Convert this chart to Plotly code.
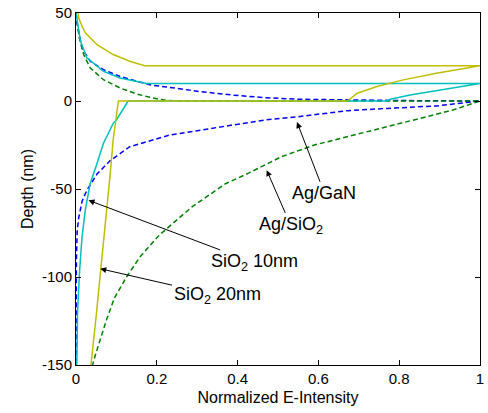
import plotly.graph_objects as go

# SiO2 20nm (yellow solid)
y20_x = [0.005, 0.007, 0.015, 0.023, 0.052, 0.092, 0.133, 0.17, 1.0, 0.892, 0.81, 0.745, 0.696, 0.672,
         0.105, 0.092, 0.084, 0.073, 0.062, 0.05, 0.037]
y20_y = [50, 47, 42.5, 38.7, 32, 26.4, 22.6, 20, 20, 15.8, 12, 8.2, 4.4, 0,
         0, -22, -43, -70, -96, -122, -150]

# SiO2 10nm (cyan solid)
s10_x = [0.0, 0.003, 0.011, 0.027, 0.068, 0.109, 0.158, 0.175, 1.0, 0.892, 0.827, 0.778, 0.77,
         0.129, 0.115, 0.1, 0.092, 0.068, 0.052, 0.035, 0.023, 0.015, 0.009, 0.004, 0.002]
s10_y = [50, 45, 34, 24.5, 16.9, 13.1, 10.8, 10, 10, 5.9, 3.4, 1, 0,
         0, -5, -10.8, -12.7, -24, -35.5, -47, -62, -77, -96, -119, -150]

# Ag/GaN (blue dashed)
gan_x = [0.0, 0.003, 0.015, 0.035, 0.068, 0.109, 0.15, 0.19, 0.23, 0.305, 0.386, 0.468, 0.55, 0.7, 0.85, 1.0,
         0.892, 0.77, 0.672, 0.55, 0.468, 0.386, 0.305, 0.231, 0.133, 0.084, 0.052, 0.027, 0.015, 0.007,
         0.003, 0.001, 0.0]
gan_y = [50, 43.5, 30, 22.6, 17.8, 14, 11.2, 8.9, 7.8, 5.4, 3.4, 1.9, 1.0, 0.4, 0.15, 0,
         -2.8, -4.2, -5.5, -8.9, -10.8, -13.7, -16.5, -19.4, -26, -34, -41.5, -50.7, -57, -66,
         -73.5, -90, -150]

# Ag/SiO2 (green dashed)
sio_x = [0.0, 0.003, 0.008, 0.019, 0.035, 0.068, 0.109, 0.15, 0.19, 0.223, 0.26, 1.0,
         0.933, 0.851, 0.77, 0.688, 0.59, 0.508, 0.427, 0.37, 0.288, 0.207, 0.158, 0.125, 0.095,
         0.076, 0.057, 0.047, 0.041]
sio_y = [50, 43.5, 36, 26.4, 18.8, 12.1, 7.4, 4, 1.7, 0.4, 0, 0,
         -5.1, -9.9, -14.6, -19.4, -25, -31.7, -41, -47, -60, -76, -88.7, -100, -112,
         -124, -137, -145, -150]

x_ticks = [0, 0.2, 0.4, 0.6, 0.8, 1]
x_labels = ["0", "0.2", "0.4", "0.6", "0.8", "1"]
y_ticks = [50, 0, -50, -100, -150]
y_labels = ["50", "0", "-50", "-100", "-150"]

fig = go.Figure()
fig.add_trace(go.Scatter(x=gan_x, y=gan_y, mode="lines",
                         line=dict(color="#0000FF", width=1.5, dash="5px,3px")))
fig.add_trace(go.Scatter(x=sio_x, y=sio_y, mode="lines",
                         line=dict(color="#008000", width=1.5, dash="5px,3px")))
fig.add_trace(go.Scatter(x=s10_x, y=s10_y, mode="lines",
                         line=dict(color="#00BFBF", width=1.5)))
fig.add_trace(go.Scatter(x=y20_x, y=y20_y, mode="lines",
                         line=dict(color="#BFBF00", width=1.5)))

font = "Liberation Sans, Arial, sans-serif"
ann = [
    ("Ag/GaN", 0.615, -52.4, 0.547, -12),
    ("Ag/SiO<sub>2</sub>", 0.532, -71, 0.472, -39.3),
    ("SiO<sub>2</sub> 10nm", 0.442, -92, 0.031, -56.4),
    ("SiO<sub>2</sub> 20nm", 0.349, -110.5, 0.06, -95.3),
]
for t, tx, ty, hx, hy in ann:
    fig.add_annotation(x=hx, y=hy, ax=tx, ay=ty, xref="x", yref="y", axref="x", ayref="y",
                       text=t, showarrow=True, arrowhead=2, arrowsize=1.2, arrowwidth=1,
                       arrowcolor="black", standoff=0, startstandoff=0,
                       font=dict(family=font, size=18, color="black"))

axis_common = dict(showgrid=False, zeroline=False, showline=True, linecolor="black", linewidth=1,
                   mirror="ticks", ticks="inside", ticklen=5, tickcolor="black",
                   ticklabeloverflow="allow",
                   tickfont=dict(family=font, size=15, color="black"))
fig.update_xaxes(range=[0, 1], tickvals=x_ticks, ticktext=x_labels,
                 title=dict(text="Normalized E-Intensity", font=dict(family=font, size=16, color="black"), standoff=5),
                 **axis_common)
fig.update_yaxes(range=[-150, 50], tickvals=y_ticks, ticktext=y_labels,
                 title=dict(text="Depth (nm)", font=dict(family=font, size=16, color="black"), standoff=4),
                 **axis_common)
fig.update_layout(width=488, height=413, margin=dict(l=76, r=4, t=13, b=48),
                  plot_bgcolor="white", paper_bgcolor="white", showlegend=False)
fig.write_html("out.html")
